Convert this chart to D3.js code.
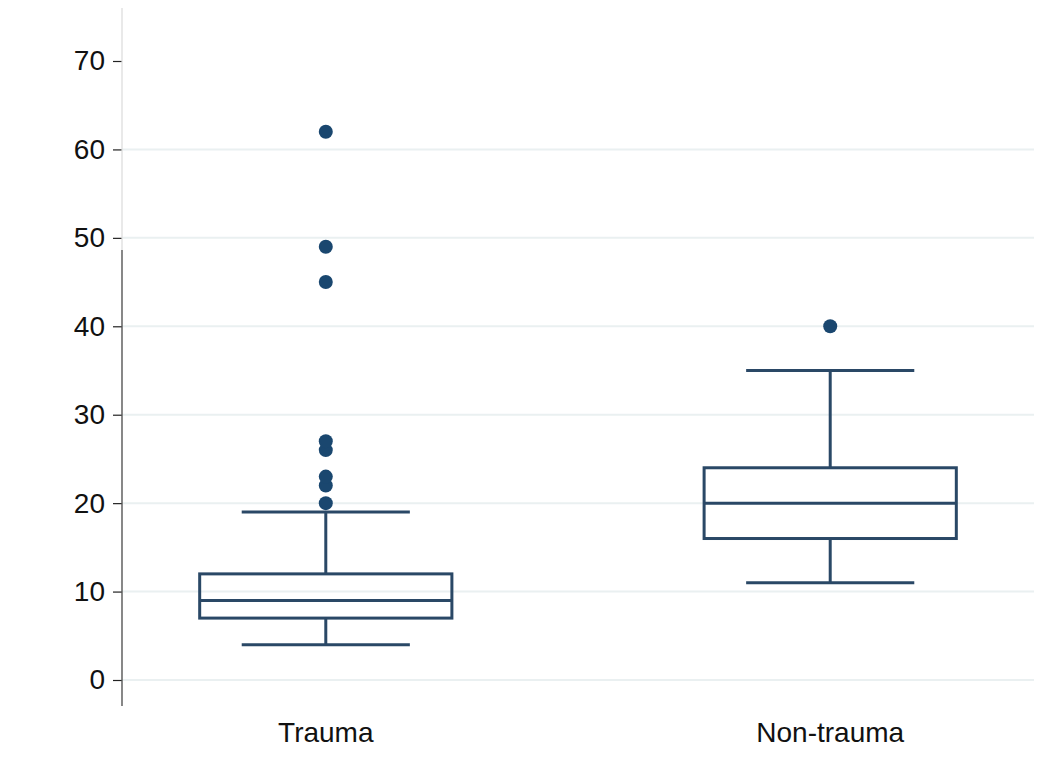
<!DOCTYPE html>
<html><head><meta charset="utf-8">
<script src="https://cdn.jsdelivr.net/npm/d3@7"></script>
<style>body{margin:0;background:#fff}svg{display:block}</style>
</head><body>
<svg id="c" width="1048" height="774"></svg>
<script>
const categories = ["Trauma", "Non-trauma"];
const lowWhisker = [4, 11];
const q1 = [7, 16];
const median = [9, 20];
const q3 = [12, 24];
const highWhisker = [19, 35];
const outliers = [[20, 22, 23, 26, 27, 45, 49, 62], [40]];
const yTicks = [0, 10, 20, 30, 40, 50, 60, 70];

const svg = d3.select("#c");
const left = 122, right = 1034;
const y = d3.scaleLinear().domain([0, 70]).range([680, 61]);
const x = d3.scalePoint().domain(categories).range([left, right]).padding(0.404);
const step = x.step();
const boxW = step * 0.5, capW = step / 3;
const navy = "#1a476f", line = "#2a4866";
const font = "Liberation Sans, Arial, sans-serif";

// gridlines
svg.append("g").selectAll("line").data(yTicks.filter(t => t < 70)).join("line")
  .attr("x1", left).attr("x2", right)
  .attr("y1", d => y(d)).attr("y2", d => y(d))
  .attr("stroke", "#eaf0f1").attr("stroke-width", 2);

// y axis
const ax = svg.append("g").attr("transform", `translate(${left},0)`)
  .call(d3.axisLeft(y).tickValues(yTicks).tickSize(9).tickPadding(8));
ax.select(".domain").remove();
ax.selectAll(".tick line").attr("stroke", "#222").attr("stroke-width", 1.2);
ax.selectAll(".tick text").attr("font-family", font)
  .attr("font-size", 28).attr("fill", "#111");
svg.append("line").attr("x1", left).attr("x2", left).attr("y1", 8).attr("y2", 250)
  .attr("stroke", "#dadada").attr("stroke-width", 1.2);
svg.append("line").attr("x1", left).attr("x2", left).attr("y1", 250).attr("y2", 706)
  .attr("stroke", "#555").attr("stroke-width", 1.4);

// boxes
const g = svg.append("g");
categories.forEach((c, i) => {
  const cx = x(c);
  const sw = 3;
  g.append("line").attr("x1", cx).attr("x2", cx).attr("y1", y(q3[i])).attr("y2", y(highWhisker[i]))
    .attr("stroke", line).attr("stroke-width", sw);
  g.append("line").attr("x1", cx).attr("x2", cx).attr("y1", y(q1[i])).attr("y2", y(lowWhisker[i]))
    .attr("stroke", line).attr("stroke-width", sw);
  [highWhisker[i], lowWhisker[i]].forEach(v => {
    g.append("line").attr("x1", cx - capW / 2).attr("x2", cx + capW / 2)
      .attr("y1", y(v)).attr("y2", y(v)).attr("stroke", line).attr("stroke-width", sw);
  });
  g.append("rect").attr("x", cx - boxW / 2).attr("width", boxW)
    .attr("y", y(q3[i])).attr("height", y(q1[i]) - y(q3[i]))
    .attr("fill", "none").attr("stroke", line).attr("stroke-width", sw);
  g.append("line").attr("x1", cx - boxW / 2).attr("x2", cx + boxW / 2)
    .attr("y1", y(median[i])).attr("y2", y(median[i])).attr("stroke", line).attr("stroke-width", sw);
  g.selectAll(null).data(outliers[i]).join("circle")
    .attr("cx", cx).attr("cy", d => y(d)).attr("r", 7).attr("fill", navy);
  svg.append("text").attr("x", cx).attr("y", 742).attr("text-anchor", "middle")
    .attr("font-family", font).attr("font-size", 28)
    .attr("fill", "#111").text(c);
});
</script>
</body></html>
